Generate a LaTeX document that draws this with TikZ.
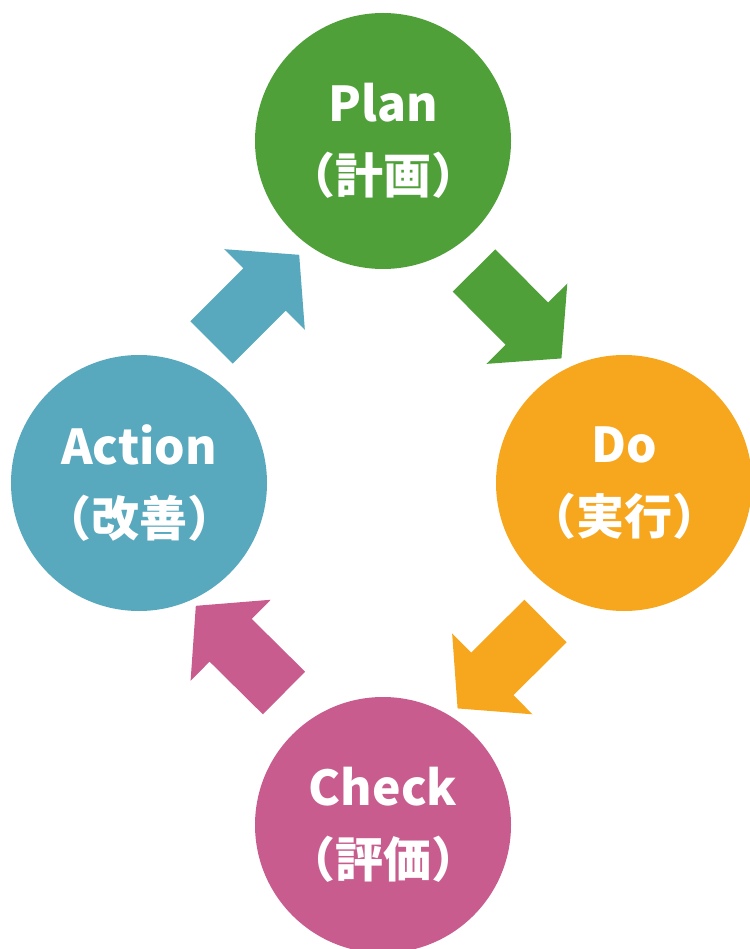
\documentclass[tikz,border=0pt]{standalone}
\usepackage{fontspec}
\setmainfont{Noto Sans CJK JP}
\definecolor{plangreen}{RGB}{80,160,58}
\definecolor{doorange}{RGB}{247,167,30}
\definecolor{checkpink}{RGB}{200,92,142}
\definecolor{actionblue}{RGB}{88,168,190}
\tikzset{phase/.style={circle,fill=#1,minimum size=256pt,inner sep=0pt,text=white,
    font=\bfseries\fontsize{48}{72}\selectfont,align=center},
  pics/cyclearrow/.style={code={\fill (0,30) -- (75,30) -- (75,57) -- (124,0) -- (75,-57) -- (75,-30) -- (0,-30) -- cycle;}}}
\begin{document}
\begin{tikzpicture}[x=1pt,y=1pt]
\useasboundingbox (0,0) rectangle (749,-949);
\node[phase=plangreen] (plan) at (383,-141) {Plan\\（計画）};
\node[phase=doorange] (do) at (624,-483) {Do\\（実行）};
\node[phase=checkpink] (check) at (383,-825) {Check\\（評価）};
\node[phase=actionblue] (action) at (139,-483) {Action\\（改善）};
% arrows between the phases
\coordinate (pd1) at (474,-270.5); \coordinate (pd2) at (561,-358);
\coordinate (dc1) at (545.5,-621); \coordinate (dc2) at (458,-708);
\coordinate (ca1) at (284,-693); \coordinate (ca2) at (196,-606);
\coordinate (ap1) at (211.5,-342.5); \coordinate (ap2) at (299,-255);
\path (pd1) -- (pd2) pic[pos=0,sloped,allow upside down,fill=plangreen] {cyclearrow};
\path (dc1) -- (dc2) pic[pos=0,sloped,allow upside down,fill=doorange] {cyclearrow};
\path (ca1) -- (ca2) pic[pos=0,sloped,allow upside down,fill=checkpink] {cyclearrow};
\path (ap1) -- (ap2) pic[pos=0,sloped,allow upside down,fill=actionblue] {cyclearrow};
\end{tikzpicture}
\end{document}
